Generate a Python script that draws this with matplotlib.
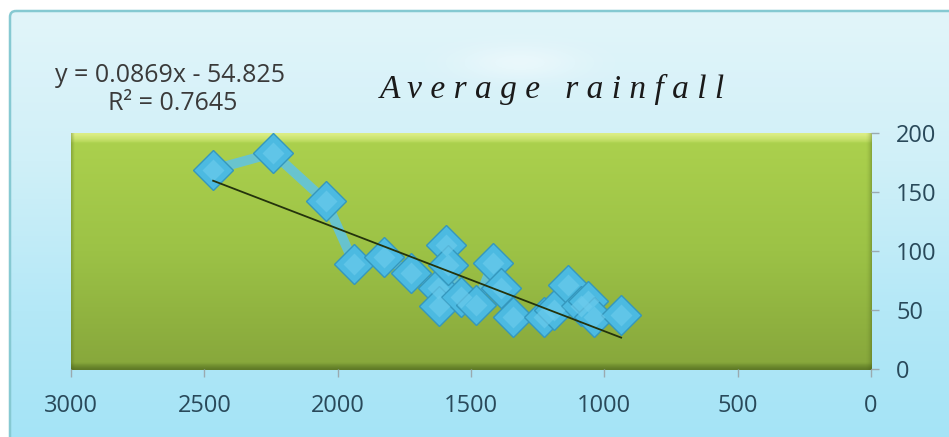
import numpy as np
import matplotlib
matplotlib.use("Agg")
import matplotlib.pyplot as plt
from matplotlib.patches import FancyBboxPatch
from matplotlib.colors import LinearSegmentedColormap

# Station values (x) and their average rainfall (y)
x_values = [2467, 2242, 2043, 1938, 1826, 1725, 1624, 1620, 1594, 1586, 1537,
            1481, 1417, 1387, 1342, 1226, 1189, 1136, 1087, 1061, 1039, 937]
rainfall = [169, 183, 142, 89, 95, 81, 69, 53, 105, 88, 61,
            54, 90, 69, 44, 44, 50, 71, 53, 58, 44, 46]

# Linear trend as reported on the chart
slope = 0.0869
intercept = -54.825
r_squared = 0.7645

title = "A v e r a g e   r a i n f a l l"
x_ticks = [3000, 2500, 2000, 1500, 1000, 500, 0]
y_ticks = [0, 50, 100, 150, 200]

W, H = 949, 437
fig = plt.figure(figsize=(W / 100, H / 100), dpi=100)
fig.patch.set_facecolor("white")

# Background layer in pixel coordinates
bg = fig.add_axes([0, 0, 1, 1])
bg.axis("off")

frame = FancyBboxPatch((10, 11), 960, 450, boxstyle="round,pad=0,rounding_size=6",
                       facecolor="none", edgecolor="#86c9d2", linewidth=1.8, zorder=3)
bg.add_patch(frame)
sky = LinearSegmentedColormap.from_list("sky", ["#e2f5fa", "#d0f0f8", "#b4e8f7", "#a2e3f6"])
grad = np.linspace(0, 1, 256).reshape(-1, 1)
im = bg.imshow(grad, cmap=sky, extent=[10, 970, 461, 11], aspect="auto", zorder=1)
im.set_clip_path(frame)

# Soft glow behind the title
gx = np.linspace(-1, 1, 200)[None, :]
gy = np.linspace(-1, 1, 60)[:, None]
glow = np.exp(-(gx ** 2 / 0.25 + gy ** 2 / 0.3))
glow_rgba = np.zeros((60, 200, 4))
glow_rgba[..., :3] = 1.0
glow_rgba[..., 3] = glow * 0.4
bg.imshow(glow_rgba, extent=[400, 640, 95, 30], aspect="auto", zorder=2)

# Green plot panel with bevelled edges
px0, px1, py0, py1 = 71, 872, 133, 370
green = LinearSegmentedColormap.from_list(
    "green", [(0.0, "#dcee86"), (0.025, "#c6e16a"), (0.04, "#abd04d"),
              (0.5, "#9cc246"), (0.97, "#88a83c"), (0.985, "#718f30"), (1.0, "#5f7a27")])
bg.imshow(np.linspace(0, 1, 400).reshape(-1, 1), cmap=green,
          extent=[px0, px1, py1, py0], aspect="auto", zorder=2)
shade = np.zeros((1, 40, 4))
shade[..., :3] = np.array([0.25, 0.33, 0.08])
shade[..., 3] = np.linspace(0, 0.6, 40) ** 2
bg.imshow(shade, extent=[px1 - 7, px1, py1, py0], aspect="auto", zorder=2)
left = np.zeros((1, 20, 4))
left[..., :3] = np.array([0.3, 0.38, 0.1])
left[..., 3] = np.linspace(0.35, 0, 20)
bg.imshow(left, extent=[px0, px0 + 4, py1, py0], aspect="auto", zorder=2)
bg.set_xlim(0, W)
bg.set_ylim(H, 0)

# Data axes
ax = fig.add_axes([px0 / W, (H - py1 + 1) / H, (px1 - 1 - px0) / W, (py1 - 1 - py0) / H])
ax.set_facecolor("none")
ax.set_xlim(3000, 0)
ax.set_ylim(0, 200)
for s in ax.spines.values():
    s.set_visible(False)

ax.plot(x_values, rainfall, color="#5ec3e6", linewidth=7, alpha=0.85,
        solid_joinstyle="round", solid_capstyle="round", zorder=2)
ax.plot(x_values, rainfall, linestyle="none", marker="D", markersize=20,
        markerfacecolor="#4cbae1", markeredgecolor="#3597bd", markeredgewidth=1.0, zorder=3)
ax.plot(x_values, rainfall, linestyle="none", marker="D", markersize=11,
        markerfacecolor="#6fcdee", markeredgecolor="none", alpha=0.6, zorder=4)

xt = np.array([min(x_values), max(x_values)])
ax.plot(xt, slope * xt + intercept, color="#24330c", linewidth=1.3, zorder=5)

ax.yaxis.tick_right()
ax.set_xticks(x_ticks)
ax.set_yticks(y_ticks)
ax.set_xticklabels([str(v) for v in x_ticks])
ax.set_yticklabels([str(v) for v in y_ticks])
ax.tick_params(axis="both", colors="#9aaab0", length=6, width=1, labelcolor="#29495a",
               labelsize=17)
ax.tick_params(axis="y", pad=12)
ax.tick_params(axis="x", pad=12)
for lab in ax.get_xticklabels() + ax.get_yticklabels():
    lab.set_fontfamily("Open Sans")

fig.text(380 / W, 1 - 89 / H, title, fontsize=24, fontstyle="italic",
         fontfamily="Liberation Serif", color="#1a1a1a", ha="left", va="center")
fig.text(170 / W, 1 - 75 / H, f"y = {slope}x - {abs(intercept)}", fontsize=18,
         fontfamily="Open Sans", color="#3a3a3a", ha="center", va="center")
fig.text(173 / W, 1 - 104 / H, f"R\u00b2 = {r_squared}", fontsize=18,
         fontfamily="Open Sans", color="#3a3a3a", ha="center", va="center")

fig.savefig("out.png", dpi=100)
